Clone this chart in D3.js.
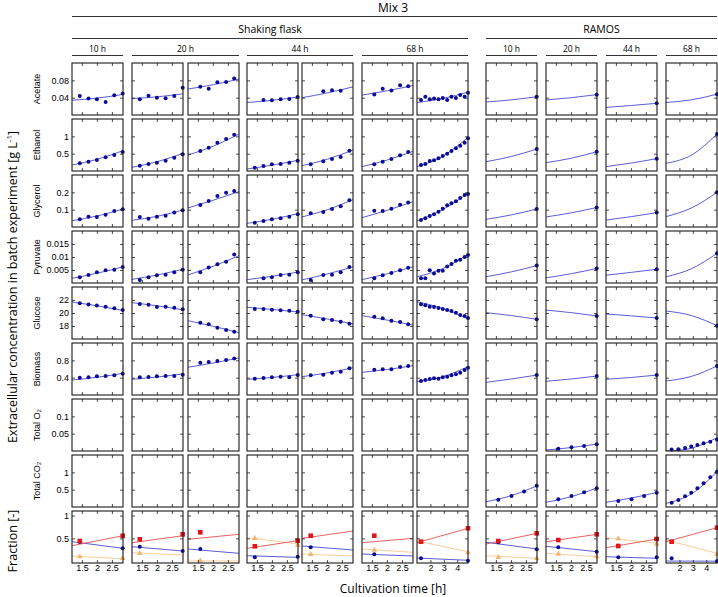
<!DOCTYPE html>
<html>
<head>
<meta charset="utf-8">
<script src="https://cdn.jsdelivr.net/npm/d3@7"></script>
<style>
  body { margin: 0; background: #fff; }
  svg { display: block; }
</style>
</head>
<body>
<svg id="chart" width="718" height="597"></svg>
<script>
// Rows (measured quantities) and their y axes
const rowNames = ["Acetate", "Ethanol", "Glycerol", "Pyruvate", "Glucose", "Biomass", "Total O₂", "Total CO₂", ""];
const rowDomains = [[0, 0.12], [0, 1.5], [0, 0.3], [0, 0.02], [16, 24], [0, 1.2], [0, 0.15], [0, 1.5], [-0.04, 1.1]];
const rowTicks = [[0.04, 0.08], [0.5, 1], [0.1, 0.2], [0.005, 0.01, 0.015], [18, 20, 22], [0.4, 0.8], [0.05, 0.1], [0.5, 1], [0.5, 1]];

// Columns (experiments)
const studyNames = ["Shaking flask", "RAMOS"];
const studyCols = [[0, 6], [7, 10]];
const timeNames = ["10 h", "20 h", "44 h", "68 h", "10 h", "20 h", "44 h", "68 h"];
const timeCols = [[0, 0], [1, 2], [3, 4], [5, 6], [7, 7], [8, 8], [9, 9], [10, 10]];
const colLong = [false, false, false, false, false, false, true, false, false, false, true];
const xDomainShort = [1.17, 2.87];
const xDomainLong = [1.0, 4.8];
const xTicksShort = [1.5, 2, 2.5];
const xTicksLong = [2, 3, 4];

// sampling times [h]
const tA = [1.43, 1.72, 2.0, 2.29, 2.58, 2.86];
const tB = [1.58, 1.86, 2.15, 2.44, 2.71];
const tC = [1.46, 1.88, 2.17, 2.46, 2.75];
const tD = [1.3, 1.62, 1.95, 2.27, 2.6, 2.92, 3.25, 3.57, 3.9, 4.22, 4.55, 4.8];
const tR = [1.58, 2.02, 2.44, 2.86];
const tL = [1.42, 1.92, 2.42, 2.88, 3.34, 3.8, 4.3, 4.8];
const colTimes = [tA, tA, tB, tA, tC, tB, tD, tR, tR, tR, tL];

// measured values, one list per column
const acetatePts = [
  [0.0437, 0.0378, 0.0362, 0.0301, 0.0453, 0.0498],
  [0.0362, 0.0446, 0.040, 0.0385, 0.0437, 0.0627],
  [0.065, 0.0604, 0.0754, 0.0763, 0.0845],
  [null, 0.0347, 0.034, 0.0362, 0.0369, 0.0415],
  [null, 0.055, 0.0573, 0.056, null],
  [0.0475, 0.0604, 0.0566, 0.0686, 0.0664],
  [0.0347, 0.0423, 0.0362, 0.0378, 0.0362, 0.0392, 0.0347, 0.0423, 0.0392, 0.046, 0.0423, 0.0513],
  [null, null, null, 0.0423],
  [null, null, null, 0.0468],
  [null, null, null, 0.027],
  [null, null, null, null, null, null, null, 0.048]
];
const ethanolPts = [
  [0.222, 0.269, 0.317, 0.394, 0.462, 0.548],
  [0.153, 0.202, 0.24, 0.298, 0.384, 0.481],
  [0.577, 0.673, 0.817, 0.923, 1.047],
  [0.096, 0.144, 0.192, 0.202, 0.24, 0.298],
  [0.192, 0.279, 0.346, 0.404, 0.586],
  [0.192, 0.269, 0.346, 0.452, 0.548],
  [0.173, 0.202, 0.289, 0.308, 0.365, 0.433, 0.5, 0.577, 0.654, 0.731, 0.817, 0.942],
  [null, null, null, 0.635],
  [null, null, null, 0.558],
  [null, null, null, 0.356],
  [null, null, null, null, null, null, null, 1.067]
];
const glycerolPts = [
  [0.044, 0.0596, 0.0577, 0.071, 0.092, 0.102],
  [0.058, 0.048, 0.0596, 0.065, 0.083, 0.096],
  [0.127, 0.15, 0.179, 0.198, 0.208],
  [0.025, 0.035, 0.044, 0.05, 0.0596, 0.073],
  [0.079, 0.0865, 0.104, 0.119, 0.154],
  [0.094, 0.092, 0.106, 0.129, 0.142],
  [0.040, 0.050, 0.063, 0.073, 0.088, 0.106, 0.125, 0.137, 0.148, 0.167, 0.185, 0.19],
  [null, null, null, 0.104],
  [null, null, null, 0.113],
  [null, null, null, 0.083],
  [null, null, null, null, null, null, null, 0.20]
];
const pyruvatePts = [
  [0.0022, 0.0031, 0.0041, 0.0049, 0.0051, 0.0062],
  [0.0012, 0.0022, 0.003, 0.0032, 0.0041, 0.0051],
  [0.0041, 0.006, 0.0072, 0.0082, 0.011],
  [null, 0.0018, 0.0022, 0.0031, 0.0032, 0.0041],
  [0.0012, 0.0031, 0.0032, 0.0041, 0.0062],
  [0.0018, 0.003, 0.0038, 0.0049, 0.0059],
  [0.0018, 0.0018, 0.0049, 0.0037, 0.0047, 0.0047, 0.0063, 0.0073, 0.0086, 0.0089, 0.01, 0.0108],
  [null, null, null, 0.0067],
  [null, null, null, 0.0056],
  [null, null, null, 0.0053],
  [null, null, null, null, null, null, null, 0.0114]
];
const glucosePts = [
  [21.5, 21.3, 21.15, 20.95, 20.75, 20.45],
  [21.4, 21.28, 20.92, 20.97, 20.82, 20.57],
  [18.5, 18.26, 17.74, 17.38, 17.13],
  [20.62, 20.62, 20.51, 20.42, 20.35, 20.2],
  [19.59, 19.03, 18.92, 18.66, 18.35],
  [19.43, 19.18, 18.82, 18.62, 18.26],
  [21.34, 21.18, 20.97, 20.92, 20.77, 20.62, 20.46, 20.31, 20.05, 19.69, 19.54, 19.23],
  [null, null, null, 19.03],
  [null, null, null, 19.54],
  [null, null, null, 19.23],
  [null, null, null, null, null, null, null, 18.05]
];
const biomassPts = [
  [0.40, 0.408, 0.43, 0.44, 0.454, 0.49],
  [0.408, 0.415, 0.43, 0.44, 0.44, 0.47],
  [0.746, 0.76, 0.785, 0.81, 0.84],
  [0.376, 0.392, 0.408, 0.423, 0.408, 0.46],
  [0.454, 0.47, 0.515, 0.538, 0.615],
  [0.585, 0.592, 0.592, 0.646, 0.669],
  [0.323, 0.346, 0.369, 0.385, 0.376, 0.408, 0.423, 0.454, 0.477, 0.515, 0.577, 0.63],
  [null, null, null, 0.46],
  [null, null, null, 0.438],
  [null, null, null, 0.46],
  [null, null, null, null, null, null, null, 0.67]
];
const o2Pts = [[], [], [], [], [], [], [], [],
  [0.0066, 0.0107, 0.0144, 0.0193],
  [],
  [0.004, 0.005, 0.009, 0.013, 0.017, 0.022, 0.027, 0.033]
];
const co2Pts = [[], [], [], [], [], [], [],
  [0.21, 0.32, 0.45, 0.61],
  [0.222, 0.317, 0.423, 0.54],
  [0.173, 0.222, 0.317, 0.413],
  [0.125, 0.202, 0.308, 0.413, 0.54, 0.683, 0.856, 1.019]
];

// model curves: value at left edge, middle and right edge of each panel
const acetateFit = [[0.034, 0.039, 0.0475], [0.0378, 0.042, 0.049], [0.060, 0.070, 0.083], [0.0288, 0.034, 0.0415],
  [0.040, 0.051, 0.065], [0.046, 0.056, 0.068], [0.0288, 0.038, 0.0528], [0.030, 0.035, 0.0423],
  [0.0347, 0.040, 0.047], [0.0174, 0.022, 0.027], [0.0288, 0.035, 0.048]];
const ethanolFit = [[0.173, 0.34, 0.586], [0.106, 0.27, 0.51], [0.46, 0.72, 1.067], [0.058, 0.17, 0.308],
  [0.154, 0.34, 0.606], [0.125, 0.32, 0.567], [0.125, 0.42, 0.971], [0.269, 0.42, 0.635],
  [0.24, 0.37, 0.558], [0.125, 0.23, 0.356], [0.221, 0.46, 1.067]];
const glycerolFit = [[0.036, 0.064, 0.104], [0.0385, 0.062, 0.098], [0.11, 0.155, 0.204], [0.021, 0.045, 0.077],
  [0.058, 0.10, 0.158], [0.054, 0.097, 0.146], [0.035, 0.10, 0.194], [0.044, 0.07, 0.104],
  [0.058, 0.082, 0.113], [0.040, 0.06, 0.083], [0.060, 0.11, 0.20]];
const pyruvateFit = [[0.0018, 0.0038, 0.0062], [0.0014, 0.0031, 0.0053], [0.0031, 0.0065, 0.0105], [0.0013, 0.0026, 0.0042],
  [0.0012, 0.0035, 0.0062], [0.0013, 0.0036, 0.0062], [0.0024, 0.0055, 0.011], [0.0024, 0.0043, 0.0067],
  [0.002, 0.0036, 0.0056], [0.003, 0.0041, 0.0053], [0.0024, 0.0055, 0.0114]];
const glucoseFit = [[21.7, 21.1, 20.4], [21.6, 21.1, 20.5], [18.82, 17.95, 16.97], [20.88, 20.55, 20.15],
  [19.74, 19.08, 18.31], [19.59, 18.9, 18.15], [21.74, 20.7, 19.08], [20.05, 19.6, 19.03],
  [20.46, 20.05, 19.54], [19.85, 19.56, 19.23], [20.31, 19.6, 18.05]];
const biomassFit = [[0.346, 0.41, 0.50], [0.362, 0.415, 0.485], [0.64, 0.74, 0.854], [0.362, 0.405, 0.47],
  [0.423, 0.51, 0.63], [0.523, 0.59, 0.677], [0.308, 0.42, 0.654], [0.292, 0.37, 0.46],
  [0.315, 0.37, 0.438], [0.362, 0.405, 0.46], [0.323, 0.43, 0.67]];
const o2Fit = [null, null, null, null, null, null, null, null, [0.003, 0.010, 0.02], null, [0.0, 0.008, 0.038]];
const co2Fit = [null, null, null, null, null, null, null, [0.15, 0.33, 0.61], [0.135, 0.30, 0.55], [0.135, 0.26, 0.42], [0.106, 0.38, 1.02]];

const rowPts = [acetatePts, ethanolPts, glycerolPts, pyruvatePts, glucosePts, biomassPts, o2Pts, co2Pts];
const rowFit = [acetateFit, ethanolFit, glycerolFit, pyruvateFit, glucoseFit, biomassFit, o2Fit, co2Fit];

// fraction row: three series, points and straight lines (left, right)
const fracRedPts = [[0.442, null, null, null, null, 0.558], [0.479, null, null, null, null, 0.589], [0.633],
  [0.326, null, null, null, null, 0.449], [0.558], [0.558], [0.427, null, null, null, null, null, null, null, null, null, null, 0.721],
  [0.442, null, null, 0.61], [0.464, null, null, 0.589], [0.333, null, null, 0.486], [0.427, null, null, null, null, null, null, 0.734]];
const fracBluePts = [[0.42, null, null, null, null, 0.282], [0.317, null, null, null, null, 0.223], [0.267],
  [0.085, null, null, null, null, 0.098], [0.304], [0.151], [0.063, null, null, null, null, null, null, null, null, null, null, 0.01],
  [0.414, null, null, 0.26], [0.304, null, null, 0.208], [0.085, null, null, 0.085], [0.063, null, null, null, null, null, null, 0.0]];
const fracYellowPts = [[0.098, null, null, null, null, 0.063], [0.172], [0.01],
  [0.501, null, null, null, null, 0.354], [0.151], [0.245], [0.427, null, null, null, null, null, null, null, null, null, null, 0.186],
  [0.085, null, null, 0.063], [0.157, null, null, 0.098], [0.493, null, null, 0.376], [0.427, null, null, null, null, null, null, 0.151]];
const fracRedFit = [[0.339, 0.558], [0.405, 0.558], [0.479, 0.589], [0.282, 0.449], [0.501, 0.661], [0.405, 0.501],
  [0.405, 0.721], [0.376, 0.61], [0.427, 0.589], [0.296, 0.486], [0.427, 0.734]];
const fracBlueFit = [[0.427, 0.282], [0.317, 0.223], [0.267, 0.172], [0.12, 0.085], [0.333, 0.245], [0.157, 0.113],
  [0.069, 0.019], [0.414, 0.267], [0.326, 0.208], [0.098, 0.063], [0.003, 0.0]];
const fracYellowFit = [[0.113, 0.054], [0.186, 0.135], [0.005, 0.005], [0.515, 0.38], [0.157, 0.113], [0.267, 0.194],
  [0.442, 0.208], [0.12, 0.063], [0.172, 0.098], [0.515, 0.392], [0.464, 0.172]];

// ---------------- layout ----------------
const svg = d3.select("#chart");
const panelW = 51, panelH = 52;
const colX = [72, 132, 188, 247, 302, 362, 417, 486, 546, 606, 666];
const rowY = [63, 119, 175, 231, 287, 343, 399, 455, 511];
const lastRow = rowY.length - 1;

const headFont = "'Open Sans', 'Noto Sans', sans-serif";
const tickFont = "'Liberation Sans', Arial, sans-serif";
const ptColor = "#0c0c96", lineColor = "#4a4ad2";
const redPt = "#e3151b", redLine = "#e65050";
const yelPt = "#f3b56e", yelLine = "#f6c891";

// headers
svg.append("text").attr("x", 393).attr("y", 12).attr("text-anchor", "middle")
  .attr("font-family", headFont).attr("font-size", 12).text("Mix 3");
svg.append("line").attr("x1", 72).attr("x2", 717).attr("y1", 16.5).attr("y2", 16.5)
  .attr("stroke", "#333").attr("stroke-width", 1);

studyNames.forEach((name, i) => {
  const x0 = colX[studyCols[i][0]], x1 = colX[studyCols[i][1]] + panelW;
  svg.append("text").attr("x", (x0 + x1) / 2).attr("y", 33).attr("text-anchor", "middle")
    .attr("font-family", headFont).attr("font-size", 10.5).text(name);
  svg.append("line").attr("x1", x0).attr("x2", x1).attr("y1", 38.5).attr("y2", 38.5)
    .attr("stroke", "#333").attr("stroke-width", 1);
});

timeNames.forEach((name, i) => {
  const x0 = colX[timeCols[i][0]], x1 = colX[timeCols[i][1]] + panelW;
  svg.append("text").attr("x", (x0 + x1) / 2).attr("y", 52).attr("text-anchor", "middle")
    .attr("font-family", headFont).attr("font-size", 8.5).text(name);
  svg.append("line").attr("x1", x0).attr("x2", x1).attr("y1", 55.5).attr("y2", 55.5)
    .attr("stroke", "#333").attr("stroke-width", 1);
});

// big axis titles
const yTitle = svg.append("text").attr("transform", "translate(17,287) rotate(-90)")
  .attr("text-anchor", "middle").attr("font-family", headFont).attr("font-size", 12.5);
yTitle.append("tspan").text("Extracellular concentration in batch experiment [g L");
yTitle.append("tspan").attr("font-size", 8).attr("dy", -5).text("-1");
yTitle.append("tspan").attr("dy", 5).text("]");

svg.append("text").attr("transform", "translate(17,541) rotate(-90)")
  .attr("text-anchor", "middle").attr("font-family", headFont).attr("font-size", 12.5).text("Fraction [-]");

svg.append("text").attr("x", 393).attr("y", 593).attr("text-anchor", "middle")
  .attr("font-family", headFont).attr("font-size", 12).text("Cultivation time [h]");

const defs = svg.append("defs");
const fmt = d => String(d);

rowY.forEach((top, r) => {
  const y = d3.scaleLinear().domain(rowDomains[r]).range([top + panelH, top]);

  if (rowNames[r]) {
    svg.append("text").attr("transform", `translate(${40},${top + panelH / 2}) rotate(-90)`)
      .attr("text-anchor", "middle").attr("font-family", tickFont).attr("font-size", 9)
      .text(rowNames[r]);
  }

  colX.forEach((left, c) => {
    const long = colLong[c];
    const x = d3.scaleLinear().domain(long ? xDomainLong : xDomainShort).range([left, left + panelW]);
    const xt = long ? xTicksLong : xTicksShort;
    const times = colTimes[c];
    const g = svg.append("g");

    const clipId = `clip-${r}-${c}`;
    defs.append("clipPath").attr("id", clipId).append("rect")
      .attr("x", left).attr("y", top).attr("width", panelW).attr("height", panelH);

    const dom = x.domain();
    const curve = d3.line().x(d => x(d[0])).y(d => y(d[1]));

    if (r < lastRow) {
      const fit = rowFit[r][c];
      if (fit) {
        const xs = [dom[0], (dom[0] + dom[1]) / 2, dom[1]];
        g.append("path").attr("clip-path", `url(#${clipId})`)
          .datum(fit.map((v, i) => [xs[i], v]))
          .attr("d", curve.curve(d3.curveNatural))
          .attr("fill", "none").attr("stroke", lineColor).attr("stroke-width", 0.9);
      }
      const pts = rowPts[r][c].map((v, i) => [times[i], v]).filter(d => d[1] != null);
      g.selectAll("circle.pt").data(pts).join("circle").attr("class", "pt")
        .attr("cx", d => x(d[0])).attr("cy", d => y(d[1])).attr("r", 2)
        .attr("fill", ptColor);
    } else {
      const straight = d3.line().x(d => x(d[0])).y(d => y(d[1]));
      const series = [
        [fracYellowFit, yelLine], [fracBlueFit, lineColor], [fracRedFit, redLine]
      ];
      series.forEach(([fits, col]) => {
        g.append("path").attr("clip-path", `url(#${clipId})`)
          .datum(fits[c].map((v, i) => [dom[i], v]))
          .attr("d", straight).attr("fill", "none").attr("stroke", col).attr("stroke-width", 0.9);
      });
      const yel = fracYellowPts[c].map((v, i) => [times[i], v]).filter(d => d[1] != null);
      g.selectAll("path.tri").data(yel).join("path").attr("class", "tri")
        .attr("d", d3.symbol(d3.symbolTriangle, 14))
        .attr("transform", d => `translate(${x(d[0])},${y(d[1])})`)
        .attr("fill", yelPt);
      const blue = fracBluePts[c].map((v, i) => [times[i], v]).filter(d => d[1] != null);
      g.selectAll("circle.pt").data(blue).join("circle").attr("class", "pt")
        .attr("cx", d => x(d[0])).attr("cy", d => y(d[1])).attr("r", 2)
        .attr("fill", ptColor);
      const red = fracRedPts[c].map((v, i) => [times[i], v]).filter(d => d[1] != null);
      g.selectAll("rect.sq").data(red).join("rect").attr("class", "sq")
        .attr("x", d => x(d[0]) - 2.3).attr("y", d => y(d[1]) - 2.3)
        .attr("width", 4.6).attr("height", 4.6).attr("fill", redPt);
    }

    // axes with inward ticks on all four sides
    const styleAxis = sel => {
      sel.select(".domain").remove();
      sel.selectAll(".tick line").attr("stroke", "#222").attr("stroke-width", 0.8);
      sel.attr("font-family", tickFont).attr("font-size", 9);
    };
    g.append("g").attr("transform", `translate(0,${top + panelH})`)
      .call(d3.axisBottom(x).tickValues(xt).tickSize(-3).tickPadding(2)
        .tickFormat(r === lastRow ? fmt : () => ""))
      .call(styleAxis);
    g.append("g").attr("transform", `translate(0,${top})`)
      .call(d3.axisTop(x).tickValues(xt).tickSize(-3).tickFormat(() => ""))
      .call(styleAxis);
    g.append("g").attr("transform", `translate(${left},0)`)
      .call(d3.axisLeft(y).tickValues(rowTicks[r]).tickSize(-3).tickPadding(3)
        .tickFormat(c === 0 ? fmt : () => ""))
      .call(styleAxis);
    g.append("g").attr("transform", `translate(${left + panelW},0)`)
      .call(d3.axisRight(y).tickValues(rowTicks[r]).tickSize(-3).tickFormat(() => ""))
      .call(styleAxis);

    g.append("rect").attr("x", left).attr("y", top).attr("width", panelW).attr("height", panelH)
      .attr("fill", "none").attr("stroke", "#1a1a1a").attr("stroke-width", 1.1);
  });
});
</script>
</body>
</html>
